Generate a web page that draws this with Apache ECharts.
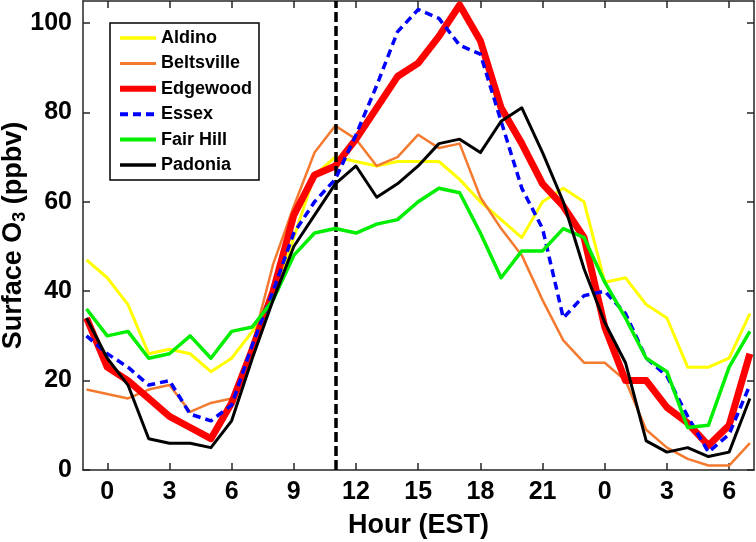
<!DOCTYPE html>
<html>
<head>
<meta charset="utf-8">
<script src="https://cdn.jsdelivr.net/npm/echarts@6/dist/echarts.min.js"></script>
<style>
html,body{margin:0;padding:0;background:#fff;}
#chart{width:756px;height:542px;}
</style>
</head>
<body>
<div id="chart"></div>
<script>
const hours = [-1,0,1,2,3,4,5,6,7,8,9,10,11,12,13,14,15,16,17,18,19,20,21,22,23,24,25,26,27,28,29,30,31];
const aldino    = [47,43,37,26,27,26,22,25,31,38,52,66,70,69,68,69,69,69,65,60,56,52,60,63,60,42,43,37,34,23,23,25,35];
const beltsville= [18,17,16,18,19,13,15,16,28,46,59,71,77,74,68,70,75,72,73,61,54,48,38,29,24,24,20,9,5,2.5,1,1,6];
const edgewood  = [34,23,20,16,12,9.5,7,15,27,40,57,66,68,74,81,88,91,97,104,96,81,73,64,59,52,32,20,20,14,10.5,5.5,10,26];
const essex     = [30,26,23,19,20,12.5,11,14.5,28,40,53,60,65,75,86,98,103,101,95,93,78,63,54,34,39,40,35,25,21,12,4,8,19];
const fairHill  = [36,30,31,25,26,30,25,31,32,38,48,53,54,53,55,56,60,63,62,53,43,49,49,54,52,42,34,25,22,9.5,10,23,31];
const padonia   = [34,25,19,7,6,6,5,11,25,38,50,57,64,68,61,64,68,73,74,71,78,81,71,60,45,33,24,6.5,4,5,3,4,16];

const seriesNames = ['Aldino','Beltsville','Edgewood','Essex','Fair Hill','Padonia'];
const seriesData = [aldino, beltsville, edgewood, essex, fairHill, padonia];
const xTicks = [0,3,6,9,12,15,18,21,24,27,30];
const yTicks = [0,20,40,60,80,100];
const markerHour = 11;

const colors = ['#ffff00','#f47a30','#ff0000','#0000ff','#00ee00','#000000'];
const widths = [3,2.5,7,3.5,3.5,3];
const types  = ['solid','solid','solid',[8,5],'solid','solid'];

const FONT = "'Liberation Sans', Arial, sans-serif";
const axisCol = '#262626';

const chart = echarts.init(document.getElementById('chart'), null, {renderer:'canvas'});

const series = seriesNames.map((n,i)=>({
  name:n, type:'line', xAxisIndex:0, yAxisIndex:0,
  data: hours.map((h,j)=>[h, seriesData[i][j]]),
  showSymbol:false, symbol:'none',
  lineStyle:{color:colors[i], width:widths[i], type:types[i], join:'round'},
  itemStyle:{color:colors[i]},
  emphasis:{disabled:true},
  animation:false,
  z: 2 + i
}));
series[5].markLine = {
  symbol:'none', silent:true, animation:false,
  label:{show:false},
  lineStyle:{color:'#000', width:3.5, type:[10,4]},
  data:[{xAxis: markerHour}]
};

const xCommon = {type:'value', min:-1.17, max:31.2, splitLine:{show:false}, nameMoveOverlap:false,
  axisLine:{show:true, onZero:false, lineStyle:{color:axisCol, width:1.5}}};
const yCommon = {type:'value', min:0, max:104.9, splitLine:{show:false}, nameMoveOverlap:false,
  axisLine:{show:true, onZero:false, lineStyle:{color:axisCol, width:1.5}}};

chart.setOption({
  backgroundColor:'#fff',
  animation:false,
  grid:{left:83, right:2, top:1, bottom:72, containLabel:false, outerBoundsMode:'none'},
  legend:{
    orient:'vertical', left:110, top:23,
    data: seriesNames.map((n,i)=>({name:n,
      lineStyle:{color:colors[i], width:Math.min(widths[i]+0.5, 6), type:types[i]}})),
    backgroundColor:'#fff', borderColor:'#000', borderWidth:1.5,
    padding:[5,7,5,7],
    itemWidth:36, itemHeight:12, itemGap:5.4,
    itemStyle:{opacity:0, borderWidth:0},
    textStyle:{fontFamily:FONT, fontWeight:'bold', fontSize:18, color:'#000', lineHeight:20},
    selectedMode:false
  },
  xAxis:[
    Object.assign({}, xCommon, {position:'bottom',
      axisTick:{show:true, inside:true, length:7, customValues:xTicks, lineStyle:{color:axisCol, width:1.5}},
      axisLabel:{show:true, customValues:xTicks, margin:10, color:'#000', fontFamily:FONT, fontWeight:'bold', fontSize:25,
        formatter:(v)=>String(((v%24)+24)%24)},
      name:'Hour (EST)', nameLocation:'middle', nameGap:42,
      nameTextStyle:{fontFamily:FONT, fontWeight:'bold', fontSize:27, color:'#000'}
    }),
    Object.assign({}, xCommon, {position:'top',
      axisTick:{show:true, inside:true, length:7, customValues:xTicks, lineStyle:{color:axisCol, width:1.5}},
      axisLabel:{show:false}
    })
  ],
  yAxis:[
    Object.assign({}, yCommon, {position:'left',
      axisTick:{show:true, inside:true, length:7, customValues:yTicks, lineStyle:{color:axisCol, width:1.5}},
      axisLabel:{show:true, customValues:yTicks, margin:11, color:'#000', fontFamily:FONT, fontWeight:'bold', fontSize:25},
      name:'{a|Surface O}{s|3}{a| (ppbv)}', nameLocation:'middle', nameGap:54,
      nameTextStyle:{fontFamily:FONT, fontWeight:'bold', fontSize:27, color:'#000',
        rich:{
          a:{fontFamily:FONT, fontWeight:'bold', fontSize:27, color:'#000', lineHeight:30},
          s:{fontFamily:FONT, fontWeight:'bold', fontSize:18, color:'#000', lineHeight:14, verticalAlign:'bottom'}
        }}
    }),
    Object.assign({}, yCommon, {position:'right',
      axisTick:{show:true, inside:true, length:7, customValues:yTicks, lineStyle:{color:axisCol, width:1.5}},
      axisLabel:{show:false}
    })
  ],
  series: series
});
</script>
</body>
</html>
